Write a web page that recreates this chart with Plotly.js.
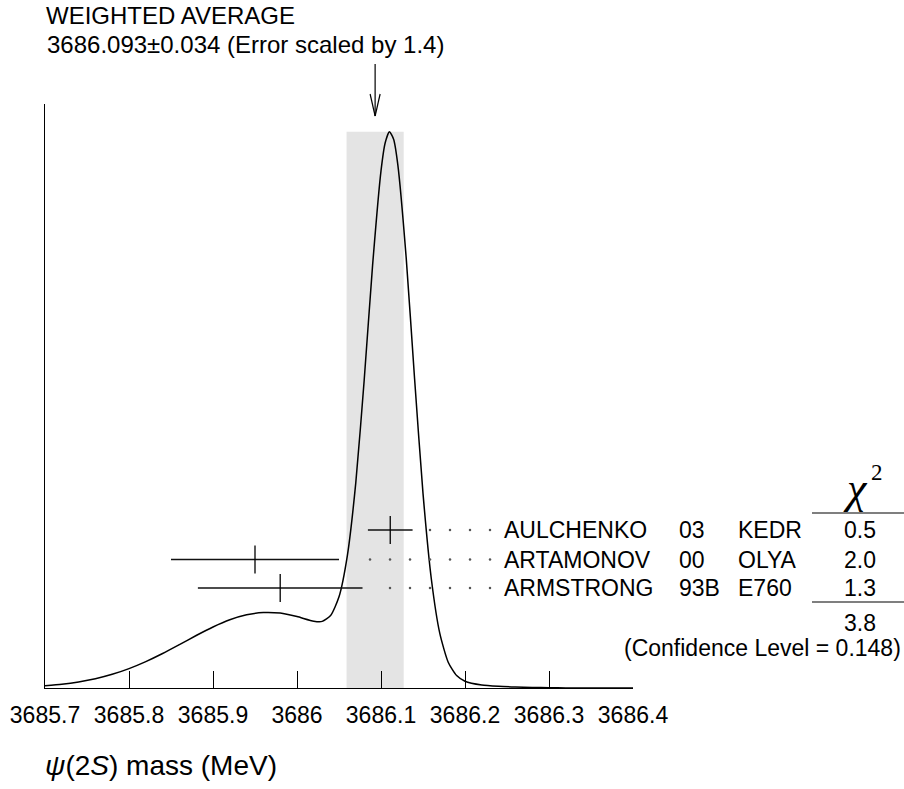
<!DOCTYPE html>
<html>
<head>
<meta charset="utf-8">
<script src="https://cdn.plot.ly/plotly-3.0.1.min.js"></script>
<style>html,body{margin:0;padding:0;background:#fff;}</style>
</head>
<body>
<div id="chart" style="width:904px;height:789px;"></div>
<script>
// ---- data ----
const avgValue = 3686.093;
const avgError = 0.034;
const errScale = 1.4;

const authors = ["AULCHENKO", "ARTAMONOV", "ARMSTRONG"];
const years = ["03", "00", "93B"];
const experiments = ["KEDR", "OLYA", "E760"];
const measValues = [3686.111, 3685.95, 3685.98];
const measErrors = [0.0266, 0.10, 0.098];
const chi2Values = ["0.5", "2.0", "1.3"];
const chi2Total = "3.8";
const confLevel = "0.148";

const tickVals = [3685.7, 3685.8, 3685.9, 3686.0, 3686.1, 3686.2, 3686.3, 3686.4];
const tickText = ["3685.7", "3685.8", "3685.9", "3686", "3686.1", "3686.2", "3686.3", "3686.4"];

// ideogram curve (arbitrary units)
const curveX = [3685.70, 3685.72, 3685.74, 3685.76, 3685.78, 3685.80, 3685.82, 3685.84, 3685.86, 3685.88,
  3685.90, 3685.92, 3685.94, 3685.96, 3685.98, 3686.00, 3686.02, 3686.03, 3686.04, 3686.05,
  3686.06, 3686.07, 3686.08, 3686.09, 3686.10, 3686.105, 3686.11, 3686.115, 3686.12, 3686.13,
  3686.14, 3686.15, 3686.16, 3686.17, 3686.18, 3686.19, 3686.20, 3686.22, 3686.24, 3686.26,
  3686.28, 3686.30, 3686.32, 3686.35, 3686.40];
const curveY = [2.3, 3.8, 6.1, 9.3, 13.7, 19.4, 26.4, 34.5, 43.4, 52.5,
  61.0, 68.2, 73.2, 75.5, 74.9, 71.4, 66.8, 66.6, 72.4, 91.2,
  132.7, 205.4, 308.0, 422.9, 517.2, 545.3, 556.2, 548.8, 523.4, 430.1,
  309.0, 194.6, 108.5, 54.6, 25.8, 12.4, 6.8, 3.0, 1.7, 1.0,
  0.5, 0.3, 0.1, 0.0, 0.0];

// ---- layout geometry ----
const W = 904, H = 789;
const mL = 45, mR = 271, mT = 104, mB = 101;
const plotW = W - mL - mR, plotH = H - mT - mB;
const xMin = 3685.7, xMax = 3686.4;
const yMax = plotH; // 1 unit per pixel
const pxPerX = plotW / (xMax - xMin);
const baseY = H - mB;
const pyToPaper = py => (baseY - py) / plotH;
const pxToPaper = px => (px - mL) / plotW;
const pyToY = py => (baseY - py) * (yMax / plotH);

const rowPy = [530, 559.5, 588];
const rowY = rowPy.map(pyToY);

const FONT = "Liberation Sans, Arial, Helvetica, sans-serif";
const SERIF = "Liberation Serif, Times New Roman, serif";
const FS = 23;
const TFS = 24;

const traces = [];

// ideogram curve
traces.push({
  x: curveX, y: curveY, type: "scatter", mode: "lines",
  line: {color: "#000", width: 1.5, shape: "spline", smoothing: 0.6},
  hoverinfo: "skip", showlegend: false
});

// measurements with error bars
traces.push({
  x: measValues, y: rowY, type: "scatter", mode: "markers",
  marker: {symbol: "line-ns", size: 20, line: {color: "#000", width: 1.3}, color: "#000"},
  error_x: {type: "data", array: measErrors, symmetric: true, width: 0, thickness: 1.5, color: "#111"},
  hoverinfo: "skip", showlegend: false
});

// dotted leaders
const dotEndX = xMin + (490 - mL) / pxPerX;
const dotStep = 20 / pxPerX;
const dotGap = 12 / pxPerX;
const dx = [], dy = [];
for (let i = 0; i < measValues.length; i++) {
  const barEnd = measValues[i] + measErrors[i];
  for (let x = dotEndX; x > barEnd + dotGap; x -= dotStep) { dx.push(x); dy.push(rowY[i]); }
}
traces.push({
  x: dx, y: dy, type: "scatter", mode: "markers",
  marker: {symbol: "circle", size: 2.5, color: "#555"},
  hoverinfo: "skip", showlegend: false
});

const annotations = [];
const colX = [502, 677, 736];
for (let i = 0; i < authors.length; i++) {
  const cols = [authors[i], years[i], experiments[i]];
  cols.forEach((t, j) => annotations.push({
    text: t, xref: "paper", yref: "y", x: pxToPaper(colX[j]), y: rowY[i],
    xanchor: "left", yanchor: "middle", showarrow: false,
    font: {family: FONT, size: FS, color: "#000"}
  }));
  annotations.push({
    text: chi2Values[i], xref: "paper", yref: "y", x: pxToPaper(860), y: rowY[i],
    xanchor: "center", yanchor: "middle", showarrow: false,
    font: {family: FONT, size: FS, color: "#000"}
  });
}
annotations.push({
  text: chi2Total, xref: "paper", yref: "paper", x: pxToPaper(860), y: pyToPaper(623),
  xanchor: "center", yanchor: "middle", showarrow: false,
  font: {family: FONT, size: FS, color: "#000"}
});
annotations.push({
  text: "(Confidence Level = " + confLevel + ")", xref: "paper", yref: "paper",
  x: pxToPaper(903), y: pyToPaper(648), xanchor: "right", yanchor: "middle", showarrow: false,
  font: {family: FONT, size: FS, color: "#000"}
});
// chi^2 header
annotations.push({
  text: "<i>χ</i>", xref: "paper", yref: "paper", x: pxToPaper(855), y: pyToPaper(488),
  xanchor: "center", yanchor: "middle", showarrow: false,
  font: {family: SERIF, size: 44, color: "#000"}
});
annotations.push({
  text: "2", xref: "paper", yref: "paper", x: pxToPaper(877), y: pyToPaper(472),
  xanchor: "center", yanchor: "middle", showarrow: false,
  font: {family: SERIF, size: 23, color: "#000"}
});
// second title line
annotations.push({
  text: avgValue.toFixed(3) + "±" + avgError.toFixed(3) + " (Error scaled by " + errScale.toFixed(1) + ")",
  xref: "paper", yref: "paper", x: pxToPaper(45), y: pyToPaper(44),
  xanchor: "left", yanchor: "middle", showarrow: false,
  font: {family: FONT, size: TFS, color: "#000"}
});
// x-axis title (left aligned as in the reference)
annotations.push({
  text: "<i>ψ</i>(2<i>S</i>) mass (MeV)", xref: "paper", yref: "paper",
  x: pxToPaper(43), y: pyToPaper(765), xanchor: "left", yanchor: "middle", showarrow: false,
  font: {family: FONT, size: 28, color: "#000"}
});

const bandTop = Math.max(...curveY);
const arrowHalf = 5 / pxPerX;
const shapes = [
  {type: "rect", xref: "x", yref: "y", x0: avgValue - avgError, x1: avgValue + avgError,
   y0: 0, y1: bandTop, fillcolor: "rgb(228,228,228)", line: {width: 0}, layer: "below"},
  {type: "line", xref: "x", yref: "paper", x0: avgValue, x1: avgValue,
   y0: pyToPaper(64), y1: pyToPaper(116), line: {color: "#000", width: 1.2}},
  {type: "line", xref: "x", yref: "paper", x0: avgValue - arrowHalf, x1: avgValue,
   y0: pyToPaper(94), y1: pyToPaper(116), line: {color: "#000", width: 1.2}},
  {type: "line", xref: "x", yref: "paper", x0: avgValue + arrowHalf, x1: avgValue,
   y0: pyToPaper(94), y1: pyToPaper(116), line: {color: "#000", width: 1.2}},
  {type: "line", xref: "paper", yref: "paper", x0: pxToPaper(812), x1: pxToPaper(904),
   y0: pyToPaper(513), y1: pyToPaper(513), line: {color: "#000", width: 1.2}},
  {type: "line", xref: "paper", yref: "paper", x0: pxToPaper(812), x1: pxToPaper(904),
   y0: pyToPaper(602), y1: pyToPaper(602), line: {color: "#000", width: 1.2}}
];

const layout = {
  width: W, height: H,
  margin: {l: mL, r: mR, t: mT, b: mB, pad: 0},
  paper_bgcolor: "#fff", plot_bgcolor: "#fff",
  showlegend: false,
  title: {text: "WEIGHTED AVERAGE", x: 46 / W, xanchor: "left", xref: "container",
          y: 1 - 16 / H, yanchor: "middle", yref: "container",
          font: {family: FONT, size: TFS, color: "#000"}},
  xaxis: {range: [xMin, xMax], tickvals: tickVals, ticktext: tickText,
          ticks: "inside", ticklen: 17, tickwidth: 1, tickcolor: "#000",
          showline: true, linecolor: "#000", linewidth: 1.2, mirror: false,
          showgrid: false, zeroline: false, fixedrange: true,
          tickfont: {family: FONT, size: FS, color: "#000"}, ticklabelstandoff: 6},
  yaxis: {range: [0, yMax], showticklabels: false, ticks: "",
          showline: true, linecolor: "#000", linewidth: 1.2,
          showgrid: false, zeroline: false, fixedrange: true},
  shapes: shapes,
  annotations: annotations
};

Plotly.newPlot("chart", traces, layout, {displayModeBar: false, staticPlot: true});
</script>
</body>
</html>
